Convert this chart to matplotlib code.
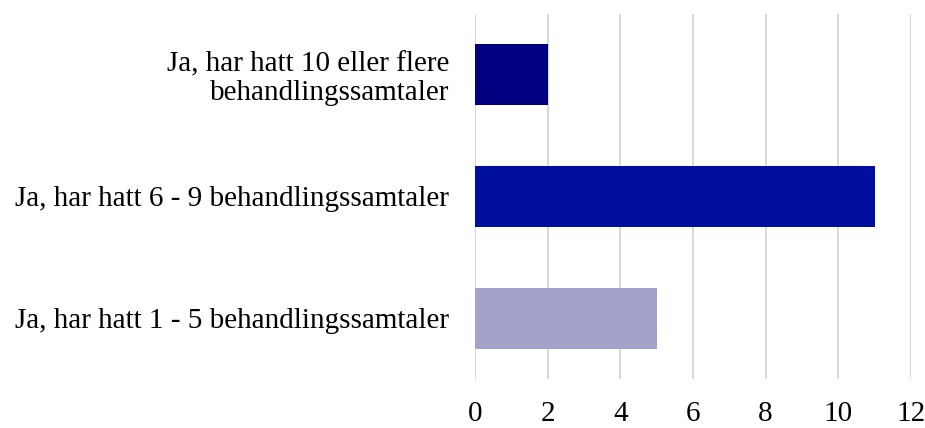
import matplotlib
matplotlib.use("Agg")
import matplotlib.pyplot as plt

categories = ["Ja, har hatt 1 - 5 behandlingssamtaler",
              "Ja, har hatt 6 - 9 behandlingssamtaler",
              "Ja, har hatt 10 eller flere\nbehandlingssamtaler"]
values = [5, 11, 2]
colors = ["#A2A2CA", "#000EA0", "#000080"]
xticks = [0, 2, 4, 6, 8, 10, 12]

plt.rcParams['font.family'] = ['Liberation Serif', 'DejaVu Serif']

fig = plt.figure(figsize=(9.25, 4.28), dpi=100)
ax = fig.add_axes([475/925, 1 - 379/428, 436/925, 365/428])
ax.barh(range(len(categories)), values, height=0.5, color=colors, zorder=3)
ax.set_ylim(-0.5, 2.5)
ax.set_xlim(0, 12)
ax.set_xticks(xticks)
ax.set_xticklabels([str(t) for t in xticks], fontsize=21)
ax.set_yticks(range(len(categories)))
ax.set_yticklabels(categories, fontsize=21, ha='right', multialignment='right', linespacing=1.1)
ax.tick_params(axis='both', length=0, colors='black')
ax.tick_params(axis='x', pad=16)
ax.tick_params(axis='y', pad=18.5)
ax.grid(axis='x', color='#D9D9D9', linewidth=1.5, zorder=0)
for s in ax.spines.values():
    s.set_visible(False)
fig.savefig("out.png", dpi=100)
